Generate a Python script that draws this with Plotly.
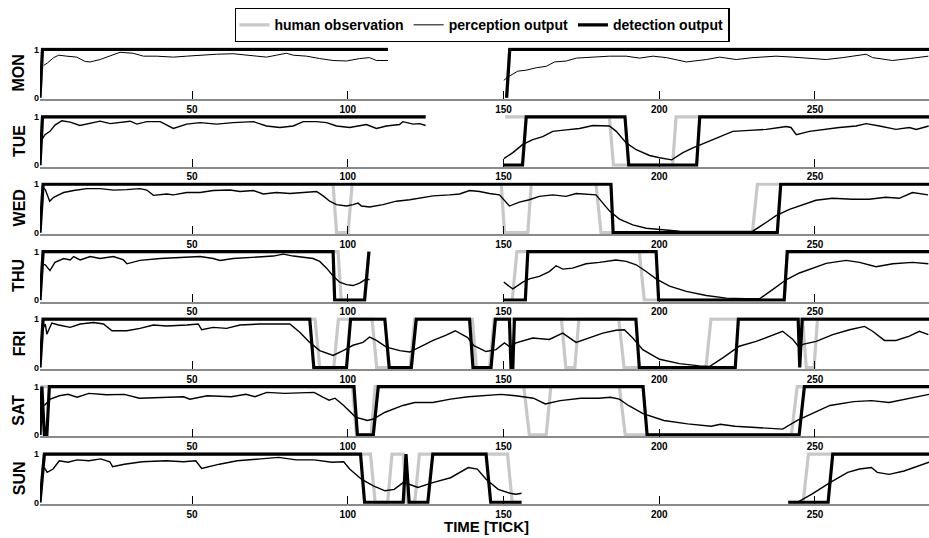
import plotly.graph_objects as go

# ---------------- data (tick, value); None marks a gap ----------------
DAYS = ["MON", "TUE", "WED", "THU", "FRI", "SAT", "SUN"]
X_TICKS = [50, 100, 150, 200, 250]
Y_TICKS = [0, 1]

MON_HUM = [(1.2, 0), (2, 1), (112.9, 1), None, (151, 0), (152, 1), (286.6, 1)]
MON_DET = [(1.2, 0), (2, 1), (112.9, 1), None, (151, 0), (152, 1), (286.6, 1)]
MON_PER = [(2.4, 0.67), (3.6, 0.72), (5.6, 0.83), (7.2, 0.88), (9.8, 0.86), (13, 0.84), (15.7, 0.75),
           (17.3, 0.74), (20.5, 0.79), (22.6, 0.84), (24.8, 0.90), (26.9, 0.94), (31.1, 0.92), (34.4, 0.86),
           (38.6, 0.86), (44, 0.84), (48.3, 0.86), (52.6, 0.88), (57.9, 0.90), (63.2, 0.91), (68.6, 0.88),
           (73.9, 0.84), (77.1, 0.88), (80.3, 0.92), (82.5, 0.88), (86.8, 0.86), (91, 0.81), (95.3, 0.77),
           (99.6, 0.76), (103.8, 0.81), (107, 0.83), (109.2, 0.77), (112.9, 0.77), None,
           (150.1, 0.36), (151.4, 0.43), (154.6, 0.55), (157.3, 0.57), (160.5, 0.62), (163.7, 0.65),
           (166.4, 0.74), (170.2, 0.76), (173.4, 0.82), (178.7, 0.84), (184, 0.86), (189.4, 0.86),
           (193.7, 0.82), (198, 0.86), (202.3, 0.83), (208.7, 0.74), (215.1, 0.79), (219.4, 0.84),
           (224.7, 0.79), (230.1, 0.83), (237.5, 0.86), (242.9, 0.84), (249.3, 0.81), (253.6, 0.79),
           (258.9, 0.83), (266.4, 0.90), (268.5, 0.83), (274.9, 0.77), (280.3, 0.81), (286.4, 0.86)]

TUE_HUM = [(1.2, 0), (2, 1), (125, 1), None, (150.5, 1), (184, 1), (185.3, 0), (204.3, 0), (205.4, 1), (286.6, 1)]
TUE_DET = [(1.2, 0), (2, 1), (125, 1), None, (150.1, 0), (156.1, 0), (157.3, 1), (189, 1), (190.2, 0),
           (212, 0), (213, 1), (286.6, 1)]
TUE_PER = [(1.8, 0.53), (2.8, 0.63), (4.4, 0.70), (6.0, 0.83), (8.2, 0.92), (10.9, 0.89), (14.0, 0.82),
           (17.3, 0.86), (20.5, 0.91), (23.7, 0.86), (26.9, 0.89), (30.1, 0.91), (32.3, 0.85), (35.5, 0.90),
           (39.8, 0.90), (44.0, 0.76), (48.3, 0.85), (52.6, 0.88), (57.9, 0.85), (63.2, 0.88), (69.7, 0.90),
           (73.9, 0.81), (78.2, 0.78), (82.5, 0.81), (85.7, 0.90), (89.9, 0.90), (93.2, 0.88), (96.4, 0.81),
           (100.6, 0.78), (106.0, 0.84), (109.2, 0.76), (112.4, 0.81), (116.6, 0.84), (117.7, 0.90),
           (121.0, 0.85), (123.1, 0.86), (125.0, 0.82), None,
           (150.1, 0.135), (153.0, 0.26), (156.2, 0.43), (159.4, 0.53), (162.6, 0.59), (165.8, 0.70),
           (170.1, 0.73), (174.4, 0.76), (178.7, 0.82), (181.9, 0.82), (184.0, 0.81), (186.2, 0.70),
           (189.4, 0.46), (192.6, 0.32), (196.9, 0.20), (200.1, 0.155), (204.0, 0.11), (207.6, 0.26),
           (210.8, 0.36), (215.1, 0.47), (219.4, 0.59), (223.6, 0.70), (229.0, 0.72), (234.3, 0.74),
           (238.6, 0.78), (240.7, 0.80), (242.3, 0.78), (244.0, 0.63), (248.2, 0.70), (252.5, 0.74),
           (257.8, 0.78), (263.2, 0.81), (266.4, 0.86), (270.7, 0.81), (276.0, 0.74), (280.3, 0.78),
           (282.5, 0.74), (286.5, 0.81)]

WED_HUM = [(1.2, 0), (2.2, 1), (95.3, 1), (96.4, 0), (100.1, 0), (101.4, 1), (149.3, 1), (150.3, 0),
           (157.8, 0), (158.9, 1), (179.7, 1), (181.3, 0), (229.9, 0), (231.5, 1), (286.6, 1)]
WED_DET = [(1.2, 0), (2.2, 1), (184.5, 1), (185.2, 0), (237.9, 0), (239, 1), (286.6, 1)]
WED_PER = [(1.8, 0.95), (2.9, 0.89), (4.3, 0.65), (5.6, 0.73), (7.2, 0.78), (8.8, 0.83), (12.0, 0.87),
           (16.2, 0.91), (20.5, 0.91), (24.8, 0.88), (29.0, 0.89), (33.3, 0.91), (35.5, 0.88), (37.6, 0.77),
           (41.9, 0.80), (44.0, 0.78), (48.3, 0.83), (52.6, 0.83), (56.8, 0.87), (62.2, 0.88), (65.4, 0.85),
           (69.7, 0.87), (72.9, 0.80), (77.1, 0.83), (81.4, 0.81), (86.8, 0.83), (90.0, 0.85), (92.1, 0.76),
           (94.2, 0.65), (96.4, 0.58), (99.6, 0.55), (101.7, 0.58), (103.3, 0.61), (104.4, 0.55),
           (107.0, 0.53), (111.3, 0.58), (115.6, 0.65), (119.9, 0.68), (123.1, 0.71), (127.4, 0.76),
           (132.7, 0.78), (135.9, 0.80), (139.1, 0.87), (142.3, 0.85), (145.5, 0.81), (148.7, 0.78),
           (151.9, 0.55), (155.1, 0.63), (158.3, 0.68), (161.5, 0.75), (165.8, 0.78), (170.1, 0.75),
           (173.3, 0.81), (177.6, 0.80), (179.7, 0.78), (181.9, 0.61), (184.0, 0.45), (187.2, 0.28),
           (191.5, 0.16), (195.8, 0.09), (200.1, 0.06), (206.5, 0.03), (212.9, 0.027), (221.4, 0.027),
           (230.0, 0.03), (234.3, 0.21), (237.5, 0.35), (241.8, 0.48), (246.0, 0.58), (250.3, 0.67),
           (255.6, 0.71), (262.0, 0.69), (267.4, 0.69), (272.7, 0.73), (277.0, 0.71), (281.3, 0.83),
           (286.3, 0.78)]

THU_HUM = [(1.2, 0), (2.2, 1), (96.9, 1), (97.9, 0), (105.4, 0), (106.8, 1), None, (152.8, 0), (154.3, 1),
           (193.6, 1), (195.2, 0), (240.1, 0), (241.1, 1), (286.6, 1)]
THU_DET = [(1.2, 0), (2.2, 1), (95.3, 1), (95.8, 0), (105.4, 0), (106.8, 1), None, (150.1, 0), (157, 0),
           (157.8, 1), (199, 1), (199.8, 0), (240.1, 0), (241.1, 1), (286.6, 1)]
THU_PER = [(1.8, 0.75), (2.9, 0.73), (4.4, 0.61), (6.0, 0.78), (8.8, 0.86), (10.9, 0.83), (12.0, 0.90),
           (14.1, 0.83), (17.3, 0.90), (20.5, 0.86), (24.8, 0.90), (28.0, 0.83), (29.1, 0.75), (33.3, 0.82),
           (39.8, 0.86), (46.2, 0.88), (52.6, 0.90), (56.8, 0.86), (59.0, 0.82), (63.2, 0.86), (69.7, 0.88),
           (76.1, 0.91), (79.3, 0.95), (82.5, 0.91), (88.9, 0.86), (91.0, 0.80), (93.2, 0.66), (95.3, 0.50),
           (97.4, 0.37), (99.6, 0.32), (101.7, 0.30), (103.8, 0.35), (106.0, 0.44), (107.0, 0.42), None,
           (150.1, 0.37), (153.0, 0.23), (156.2, 0.37), (158.3, 0.44), (161.5, 0.49), (164.7, 0.59),
           (166.9, 0.71), (169.0, 0.64), (172.2, 0.66), (176.5, 0.75), (180.8, 0.78), (186.1, 0.83),
           (189.4, 0.80), (192.6, 0.73), (195.8, 0.59), (199.0, 0.44), (203.3, 0.29), (208.7, 0.18),
           (215.1, 0.095), (221.5, 0.04), (227.9, 0.027), (232.2, 0.027), (236.5, 0.22), (240.7, 0.42),
           (245.0, 0.56), (249.3, 0.66), (253.6, 0.76), (260.0, 0.82), (264.3, 0.78), (269.6, 0.69),
           (275.0, 0.75), (281.3, 0.78), (286.4, 0.75)]

FRI_HUM = [(1.2, 0), (2.2, 1), (89.5, 1), (91, 0), (95.5, 0), (97, 1), (107.8, 1), (109.3, 0), (120, 0),
           (121.5, 1), (140, 1), (141.3, 0), (145.5, 0), (147, 1), (168.6, 1), (170, 0), (172.9, 0),
           (174.2, 1), (187, 1), (188.7, 0), (215, 0), (216.6, 1), (246, 1), (247.2, 0), (249.7, 0),
           (250.8, 1), (286.6, 1)]
FRI_DET = [(1.2, 0), (2.2, 1), (87.8, 1), (89.1, 0), (99.6, 0), (100.9, 1), (111.9, 1), (113.3, 0),
           (120.4, 0), (122, 1), (139.1, 1), (140.2, 0), (146, 0), (147.4, 1), (151.9, 1), (152.4, 0),
           (153, 0), (153.5, 1), (192.5, 1), (193.6, 0), (224.4, 0), (225.4, 1), (244.6, 1), (245.1, 0),
           (245.9, 1), (286.6, 1)]
FRI_PER = [(1.8, 0.76), (2.9, 0.90), (3.4, 0.69), (5.0, 0.92), (7.2, 0.88), (10.9, 0.83), (14.1, 0.90),
           (18.4, 0.93), (21.6, 0.90), (24.3, 0.76), (29.1, 0.76), (33.3, 0.81), (37.6, 0.88), (41.9, 0.86),
           (48.3, 0.88), (52.0, 0.90), (53.1, 0.78), (56.8, 0.83), (61.1, 0.81), (65.4, 0.88), (71.8, 0.90),
           (78.2, 0.90), (81.4, 0.90), (84.6, 0.73), (87.8, 0.52), (91.0, 0.35), (95.3, 0.25), (98.5, 0.35),
           (101.7, 0.46), (104.9, 0.52), (107.0, 0.63), (109.2, 0.56), (112.4, 0.42), (116.7, 0.35),
           (119.9, 0.32), (123.1, 0.42), (127.4, 0.56), (131.6, 0.67), (134.5, 0.76), (138.5, 0.62),
           (140.5, 0.45), (144.4, 0.33), (147.6, 0.37), (150.3, 0.51), (152.4, 0.41), (154.0, 0.51),
           (159.4, 0.61), (164.7, 0.58), (169.0, 0.71), (173.3, 0.52), (177.6, 0.61), (181.9, 0.71),
           (186.1, 0.77), (188.8, 0.78), (191.5, 0.61), (194.7, 0.37), (200.1, 0.17), (206.5, 0.08),
           (212.9, 0.034), (216.1, 0.02), (220.4, 0.20), (225.7, 0.44), (231.1, 0.54), (235.4, 0.65),
           (239.6, 0.75), (242.9, 0.58), (245.0, 0.41), (246.1, 0.48), (250.4, 0.54), (255.7, 0.68),
           (261.1, 0.78), (265.9, 0.85), (268.5, 0.75), (272.3, 0.56), (276.0, 0.56), (280.3, 0.65),
           (283.5, 0.75), (286.4, 0.68)]

SAT_HUM = [(1.2, 0), (1.8, 1), (101.5, 1), (102.8, 0), (107.5, 0), (108.8, 1), (156.5, 1), (158.3, 0),
           (163.7, 0), (165.2, 1), (187.2, 1), (189.1, 0), (242.4, 0), (244.3, 1), (286.6, 1)]
SAT_DET = [(1.2, 0), (1.8, 1), (2.6, 0), (3.4, 0), (4.2, 1), (102, 1), (103.1, 0), (108.2, 0), (109.8, 1),
           (194.8, 1), (196.1, 0), (244.9, 0), (246.6, 1), (286.6, 1)]
SAT_PER = [(2.6, 0.61), (4.5, 0.74), (7.4, 0.81), (10.2, 0.84), (13.1, 0.78), (16.9, 0.86), (22.6, 0.83),
           (28.3, 0.84), (33.1, 0.76), (39.7, 0.78), (47.3, 0.79), (49.3, 0.74), (54.9, 0.81), (62.6, 0.79),
           (67.3, 0.84), (70.2, 0.79), (74.0, 0.88), (79.7, 0.86), (85.4, 0.88), (89.2, 0.88), (92.0, 0.78),
           (94.0, 0.72), (95.9, 0.76), (98.7, 0.61), (102.5, 0.37), (106.3, 0.30), (108.2, 0.33),
           (112.0, 0.47), (117.7, 0.61), (121.5, 0.67), (127.3, 0.67), (133.0, 0.74), (138.7, 0.79),
           (144.4, 0.81), (149.2, 0.84), (153.9, 0.81), (159.6, 0.76), (163.4, 0.64), (168.2, 0.71),
           (174.8, 0.76), (180.5, 0.76), (184.3, 0.78), (187.2, 0.74), (190.1, 0.61), (194.8, 0.44),
           (201.5, 0.30), (209.1, 0.23), (216.7, 0.18), (219.6, 0.22), (224.3, 0.18), (231.9, 0.15),
           (239.6, 0.12), (244.3, 0.30), (249.0, 0.44), (254.8, 0.61), (262.4, 0.69), (268.1, 0.71),
           (273.8, 0.67), (279.5, 0.74), (286.6, 0.84)]

SUN_HUM = [(1.2, 0), (2.6, 1), (107.3, 1), (108.8, 0), (112.8, 0), (114.2, 1), (117.8, 1), (119, 0),
           (121.5, 0), (123, 1), (151.3, 1), (152.8, 0), (155.8, 0), None, (241.4, 0), (246.2, 0),
           (247.9, 1), (286.6, 1)]
SUN_DET = [(1.2, 0), (2.6, 1), (104.1, 1), (105.4, 0), (117.8, 0), (118.7, 1), (119.7, 0), (125.7, 0),
           (127.3, 1), (144.4, 1), (145.9, 0), (155.8, 0), None, (241.4, 0), (254.2, 0), (255.7, 1),
           (286.6, 1)]
SUN_PER = [(2.6, 0.72), (3.5, 0.62), (5.4, 0.69), (7.4, 0.86), (10.2, 0.83), (13.1, 0.88), (16.9, 0.86),
           (20.7, 0.90), (23.6, 0.84), (24.5, 0.74), (28.3, 0.79), (34.0, 0.84), (41.6, 0.86), (47.3, 0.84),
           (51.2, 0.86), (53.1, 0.70), (58.8, 0.79), (64.5, 0.86), (72.1, 0.90), (77.8, 0.93), (83.5, 0.88),
           (89.2, 0.88), (94.9, 0.83), (98.7, 0.84), (100.6, 0.69), (104.4, 0.48), (108.2, 0.34),
           (112.0, 0.24), (114.9, 0.27), (117.8, 0.41), (119.7, 0.375), (122.5, 0.31), (127.3, 0.41),
           (133.0, 0.51), (138.7, 0.72), (141.6, 0.69), (144.4, 0.48), (148.3, 0.27), (152.1, 0.19),
           (154.0, 0.17), (155.8, 0.19), None,
           (244.3, 0.0), (249.0, 0.17), (254.8, 0.41), (260.5, 0.62), (264.3, 0.69), (268.1, 0.72),
           (270.0, 0.62), (273.8, 0.58), (278.6, 0.65), (286.6, 0.83)]

HUMAN = [MON_HUM, TUE_HUM, WED_HUM, THU_HUM, FRI_HUM, SAT_HUM, SUN_HUM]
DETECT = [MON_DET, TUE_DET, WED_DET, THU_DET, FRI_DET, SAT_DET, SUN_DET]
PERCEP = [MON_PER, TUE_PER, WED_PER, THU_PER, FRI_PER, SAT_PER, SUN_PER]


def split(pairs):
    xs = [None if p is None else p[0] for p in pairs]
    ys = [None if p is None else p[1] for p in pairs]
    return xs, ys


# ---------------- layout geometry ----------------
W, H = 929, 538
FONT = "Liberation Sans"
X_RANGE = [1.2, 286.6]
Y_RANGE = [-0.03, 1.04]
TOP1 = 47.0
STEP = 68.33
UNIT = 49.0

fig = go.Figure()
layout = dict(
    width=W, height=H, margin=dict(l=0, r=0, t=0, b=0),
    plot_bgcolor="white", paper_bgcolor="white",
    font=dict(family=FONT, color="black"),
    showlegend=True,
    legend=dict(orientation="h", x=482 / W, xanchor="center", y=1 - 5 / H, yanchor="top",
                bordercolor="black", borderwidth=1.3, bgcolor="white",
                font=dict(family=FONT, size=14, color="black", weight="bold"),
                itemwidth=30, tracegroupgap=0),
)
annotations = []

for i, day in enumerate(DAYS):
    n = i + 1
    xa = "x" if n == 1 else f"x{n}"
    ya = "y" if n == 1 else f"y{n}"
    p1 = TOP1 + STEP * i
    p0 = p1 + UNIT
    top_px = p1 - (Y_RANGE[1] - 1) * UNIT
    bot_px = p0 - Y_RANGE[0] * UNIT
    layout[f"xaxis{n}"] = dict(
        domain=[40 / W, 1], range=X_RANGE, anchor=ya, showgrid=False, zeroline=False,
        showline=True, linecolor="#8a8a8a", linewidth=1.5,
        ticks="inside", ticklen=8, tickwidth=1.2, tickcolor="black",
        tickvals=X_TICKS, ticktext=[str(v) for v in X_TICKS],
        tickfont=dict(family=FONT, size=10, color="black", weight="bold"),
    )
    layout[f"yaxis{n}"] = dict(
        domain=[1 - bot_px / H, 1 - top_px / H], range=Y_RANGE, anchor=xa,
        showgrid=False, zeroline=False, showline=False, ticks="",
        tickvals=Y_TICKS, ticktext=[str(v) for v in Y_TICKS],
        tickfont=dict(family=FONT, size=9, color="black", weight="bold"),
    )
    annotations.append(dict(
        text=day, xref="paper", yref="paper", x=19 / W, y=1 - (p1 + p0) / 2 / H,
        xanchor="center", yanchor="middle", textangle=-90, showarrow=False,
        font=dict(family=FONT, size=16, color="black", weight="bold"),
    ))

    hx, hy = split(HUMAN[i])
    dx, dy = split(DETECT[i])
    px_, py_ = split(PERCEP[i])
    fig.add_trace(go.Scatter(x=hx, y=hy, xaxis=xa, yaxis=ya, mode="lines",
                             line=dict(color="#c8c8c8", width=3.2), name="human observation",
                             legendrank=1, showlegend=(i == 0), legendgroup="h", connectgaps=False))
    fig.add_trace(go.Scatter(x=dx, y=dy, xaxis=xa, yaxis=ya, mode="lines",
                             line=dict(color="black", width=3.2), name="detection output",
                             legendrank=3, showlegend=(i == 0), legendgroup="d", connectgaps=False))
    fig.add_trace(go.Scatter(x=px_, y=py_, xaxis=xa, yaxis=ya, mode="lines",
                             line=dict(color="black", width=1.0 if i == 0 else 1.4),
                             name="perception output",
                             legendrank=2, showlegend=(i == 0), legendgroup="p", connectgaps=False))

annotations.append(dict(
    text="TIME [TICK]", xref="paper", yref="paper", x=486 / W, y=1 - 530 / H,
    xanchor="center", yanchor="middle", showarrow=False,
    font=dict(family=FONT, size=15, color="black", weight="bold"),
))
layout["annotations"] = annotations
fig.update_layout(**layout)
fig.write_html("out.html")
